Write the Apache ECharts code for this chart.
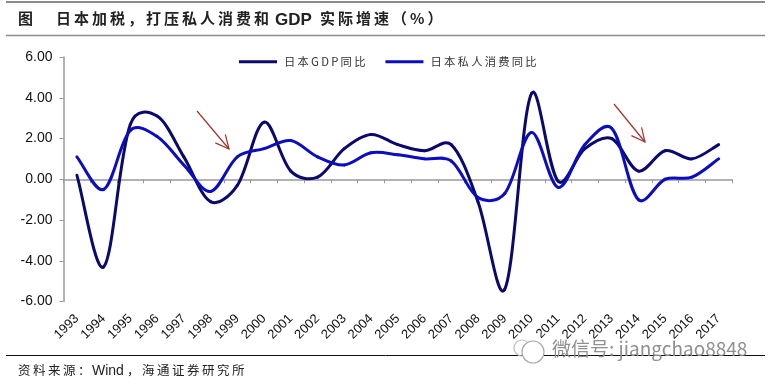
<!DOCTYPE html>
<html>
<head>
<meta charset="utf-8">
<style>html,body{margin:0;padding:0;background:#fff}#main{width:772px;height:385px}</style>
<script src="https://cdn.jsdelivr.net/npm/echarts@6/dist/echarts.min.js"></script>
</head>
<body>
<div id="main"></div>
<script>
var years = ['1993','1994','1995','1996','1997','1998','1999','2000','2001','2002','2003','2004','2005','2006','2007','2008','2009','2010','2011','2012','2013','2014','2015','2016','2017'];
var gdpValues = [0.2,-4.3,2.7,3.1,1.1,-1.1,-0.3,2.8,0.4,0.1,1.5,2.2,1.7,1.4,1.7,-1.1,-5.4,4.2,-0.1,1.5,2.0,0.4,1.4,1.0,1.7];
var consumeValues = [1.1,-0.5,2.4,2.1,0.7,-0.6,1.1,1.5,1.9,1.1,0.7,1.3,1.2,1.0,0.9,-0.9,-0.7,2.3,-0.4,1.7,2.5,-1.0,0.0,0.1,1.0];
var gdpName = '日本GDP同比';
var consumeName = '日本私人消费同比';

var hanFont = '"Noto Sans CJK SC"';
var latinFont = '"Liberation Sans"';

// 把字拉开一点，原图的中文字距比较宽
function spaced(s) {
    return s.split('').join('\u2009');
}

function arrow(x1, y1, x2, y2) {
    var a = Math.atan2(y2 - y1, x2 - x1), len = 15, w = 0.45;
    return [
        {type: 'line', silent: true, shape: {x1: x1, y1: y1, x2: x2, y2: y2}, style: {stroke: '#a5312c', lineWidth: 1.2}},
        {type: 'polyline', silent: true, shape: {points: [
            [x2 - len * Math.cos(a - w), y2 - len * Math.sin(a - w)],
            [x2, y2],
            [x2 - len * Math.cos(a + w), y2 - len * Math.sin(a + w)]
        ]}, style: {stroke: '#a5312c', lineWidth: 1.2, fill: 'none'}}
    ];
}

function rule(y, color, width) {
    return {type: 'line', silent: true, shape: {x1: 6, y1: y, x2: 765, y2: y}, style: {stroke: color, lineWidth: width}};
}

function dist(a, b) {
    return Math.sqrt((a[0] - b[0]) * (a[0] - b[0]) + (a[1] - b[1]) * (a[1] - b[1]));
}

// 控制点长度：短的一段少伸一点，免得陡坡旁边冲过头
function handle(before, after) {
    return 1 / 12 + (after / (before + after || 1)) / 6;
}

// Excel 的平滑线，line 的 smooth 峰顶太平，这里一段段画
function curveSeries(name, values, color) {
    var last = values.length - 1;
    return {
        name: name,
        type: 'custom',
        xAxisIndex: 0,
        itemStyle: {color: color},
        encode: {x: 0, y: 1},
        data: values.map(function (v, i) {
            return [i, v];
        }),
        renderItem: function (params, api) {
            var i = params.dataIndex;
            if (i >= last) {
                return null;
            }
            var p0 = api.coord([Math.max(i - 1, 0), values[Math.max(i - 1, 0)]]);
            var p1 = api.coord([i, values[i]]);
            var p2 = api.coord([i + 1, values[i + 1]]);
            var p3 = api.coord([Math.min(i + 2, last), values[Math.min(i + 2, last)]]);
            var d1 = dist(p0, p1), d2 = dist(p1, p2), d3 = dist(p2, p3);
            var k1 = handle(d1, d2), k2 = handle(d3, d2);
            return {
                type: 'bezierCurve',
                shape: {
                    x1: p1[0], y1: p1[1],
                    x2: p2[0], y2: p2[1],
                    cpx1: p1[0] + (p2[0] - p0[0]) * k1, cpy1: p1[1] + (p2[1] - p0[1]) * k1,
                    cpx2: p2[0] - (p3[0] - p1[0]) * k2, cpy2: p2[1] - (p3[1] - p1[1]) * k2
                },
                style: {stroke: color, lineWidth: 3, fill: 'none', lineCap: 'round'}
            };
        }
    };
}

var myChart = echarts.init(document.getElementById('main'));
var option = {
    backgroundColor: '#fff',
    animation: false,
    grid: {left: 63.5, right: 40, top: 57, bottom: 83.5, outerBoundsMode: 'none'},
    legend: {
        top: 51,
        left: 234,
        itemWidth: 38,
        itemHeight: 3,
        itemGap: 20,
        icon: 'rect',
        formatter: function (name) {
            return spaced(name);
        },
        textStyle: {fontFamily: hanFont + ',' + latinFont, fontSize: 11.3, color: '#333', padding: [0, 0, 0, 2]},
        data: [gdpName, consumeName]
    },
    xAxis: [
        {
            type: 'category',
            data: years,
            boundaryGap: true,
            axisLine: {onZero: true, lineStyle: {color: '#999', width: 1.5}},
            axisTick: {show: true, length: 4, alignWithLabel: false, interval: 0, lineStyle: {color: '#999'}},
            axisLabel: {show: false},
            splitLine: {show: false}
        },
        {
            // 年份标签放在图的底部，零轴那条不带标签
            type: 'category',
            data: years,
            position: 'bottom',
            boundaryGap: true,
            axisLine: {show: false, onZero: false},
            axisTick: {show: false},
            axisLabel: {
                interval: 0,
                rotate: 45,
                margin: 15,
                fontFamily: latinFont,
                fontSize: 13,
                color: '#111'
            },
            splitLine: {show: false}
        }
    ],
    yAxis: {
        type: 'value',
        min: -6,
        max: 6,
        interval: 2,
        axisLine: {show: true, lineStyle: {color: '#999', width: 1.5}},
        axisTick: {show: true, length: 4, lineStyle: {color: '#999'}},
        axisLabel: {
            margin: 11,
            fontFamily: latinFont,
            fontSize: 14,
            color: '#111',
            formatter: function (v) {
                return v.toFixed(2);
            }
        },
        splitLine: {show: false}
    },
    series: [
        curveSeries(gdpName, gdpValues, '#0a0a6e'),
        curveSeries(consumeName, consumeValues, '#0c0cc0')
    ],
    graphic: [
        rule(2, '#8c8c8c', 2),
        rule(35.5, '#8c8c8c', 1.5),
        rule(355.5, '#111', 1),
        {type: 'text', silent: true, style: {x: 18, y: 11, text: '图', font: 'bold 15px ' + hanFont, fill: '#222'}},
        {type: 'text', silent: true, style: {x: 56, y: 11, text: spaced('日本加税，打压私人消费和'), font: 'bold 15px ' + hanFont, fill: '#222'}},
        {type: 'text', silent: true, style: {x: 275, y: 12, text: 'GDP', font: 'bold 17px ' + latinFont, fill: '#222'}},
        {type: 'text', silent: true, style: {x: 320, y: 11, text: spaced('实际增速（%）'), font: 'bold 15px ' + hanFont + ',' + latinFont, fill: '#222'}},
        {type: 'text', silent: true, style: {x: 18, y: 364, text: spaced('资料来源：'), font: '12.5px ' + hanFont, fill: '#222'}},
        {type: 'text', silent: true, style: {x: 92, y: 364, text: 'Wind', font: '14px ' + latinFont, fill: '#222'}},
        {type: 'text', silent: true, style: {x: 127, y: 364, text: spaced('，海通证券研究所'), font: '12.5px ' + hanFont, fill: '#222'}},
        {type: 'circle', silent: true, shape: {cx: 522, cy: 348, r: 8}, style: {fill: 'none', stroke: '#bbb', lineWidth: 1.2}},
        {type: 'circle', silent: true, shape: {cx: 533, cy: 352, r: 11}, style: {fill: '#fff', stroke: '#aaa', lineWidth: 1.2}},
        {type: 'text', silent: true, style: {x: 552, y: 339, text: '微信号: jiangchao8848', font: '19px ' + hanFont + ',' + latinFont, fill: '#8f8f8f'}}
    ].concat(arrow(197, 111, 229, 149), arrow(614, 104, 645, 142))
};
myChart.setOption(option);
</script>
</body>
</html>
